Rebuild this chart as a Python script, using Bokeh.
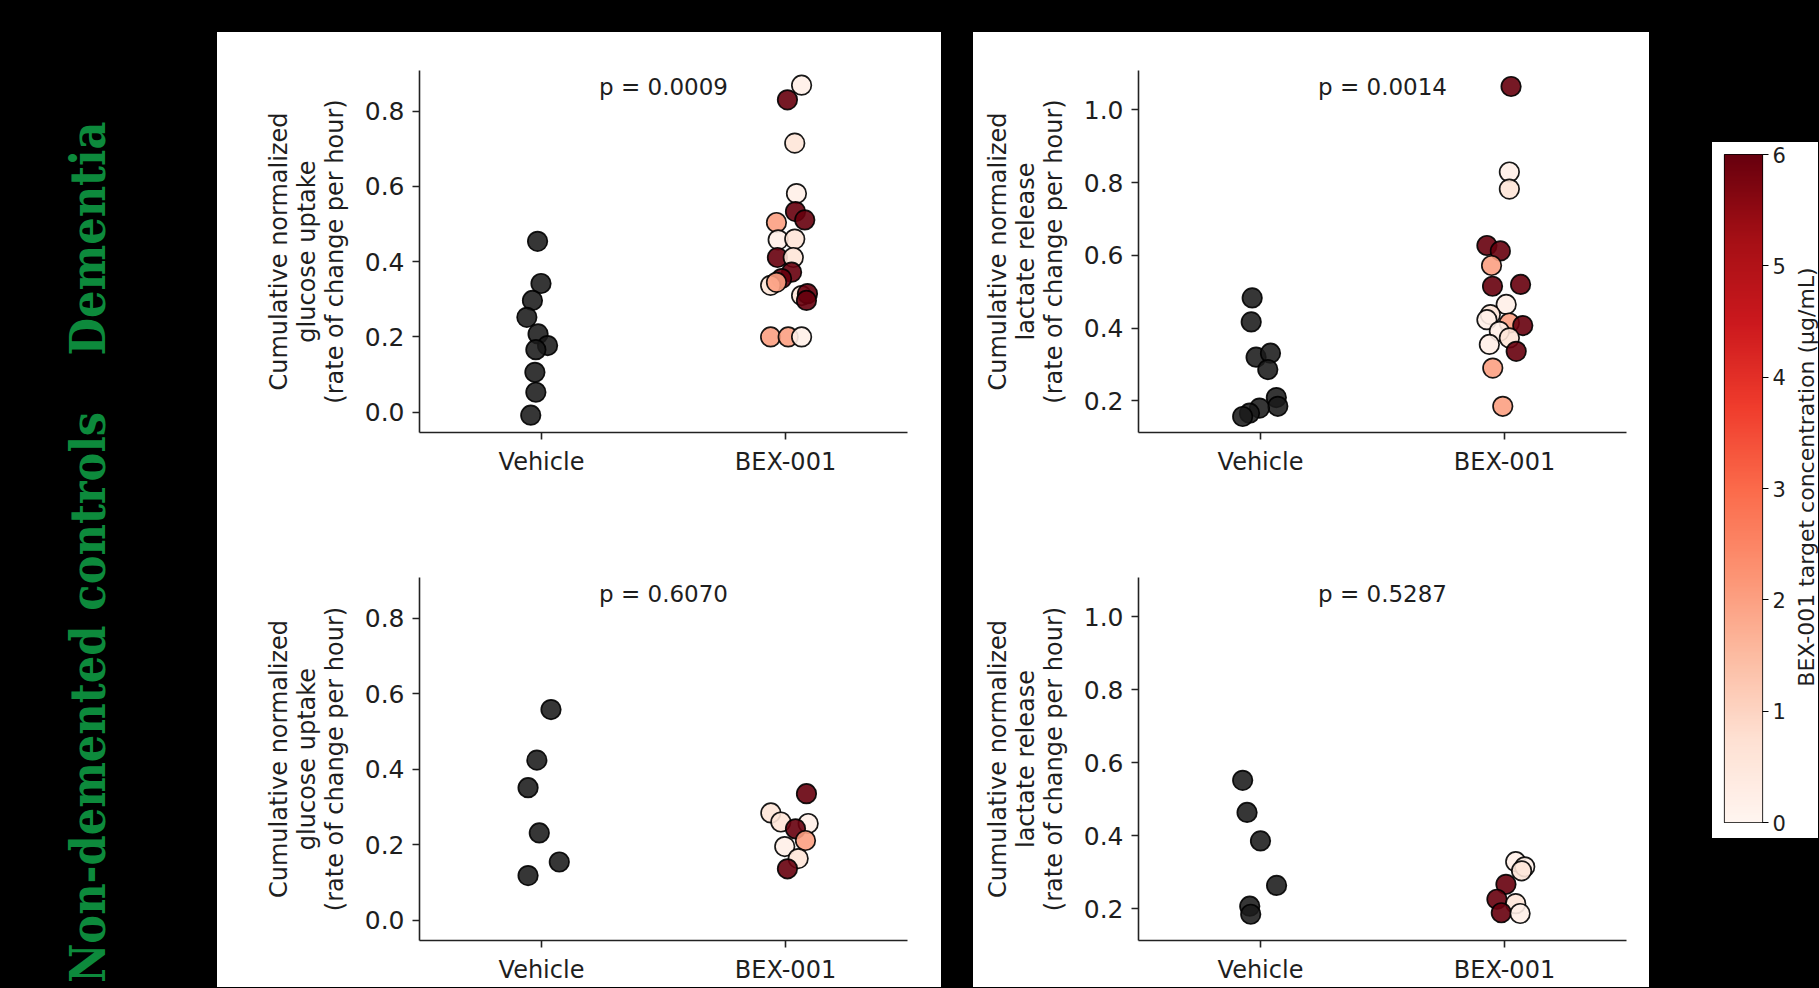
import numpy as np
from bokeh.plotting import figure
from bokeh.models import (ColumnDataSource, Range1d, FixedTicker, PrintfTickFormatter,
                          LinearColorMapper, Label, Spacer)
from bokeh.layouts import row, column
from bokeh.palettes import Reds256
from bokeh.embed import file_html
from bokeh.resources import INLINE

# ---------------- data ----------------
categories = ["Vehicle", "BEX-001"]
row_labels = ["Dementia", "Non-demented controls"]
p_values = ["p = 0.0009", "p = 0.0014", "p = 0.6070", "p = 0.5287"]
glucose_ticks = [0.0, 0.2, 0.4, 0.6, 0.8]
lactate_ticks = [0.2, 0.4, 0.6, 0.8, 1.0]
cbar_ticks = [0, 1, 2, 3, 4, 5, 6]
ylabel_glucose = "Cumulative normalized\nglucose uptake\n(rate of change per hour)"
ylabel_lactate = "Cumulative normalized\nlactate release\n(rate of change per hour)"
cbar_label = "BEX-001 target concentration (µg/mL)"

# Dementia - glucose uptake
glu_dem_veh = [0.454, 0.342, 0.297, 0.252, 0.208, 0.177, 0.166, 0.106, 0.053, -0.008]
glu_dem_veh_jit = [-0.016, -0.002, -0.037, -0.060, -0.014, 0.025, -0.023, -0.027, -0.023, -0.044]
glu_dem_bex = [0.869, 0.830, 0.715, 0.581, 0.533, 0.511, 0.504, 0.458, 0.460, 0.411, 0.411,
               0.372, 0.355, 0.337, 0.345, 0.310, 0.315, 0.297, 0.200, 0.200, 0.200]
glu_dem_bex_jit = [0.066, 0.008, 0.038, 0.045, 0.041, 0.079, -0.037, -0.030, 0.038, -0.033, 0.032,
                   0.025, -0.016, -0.061, -0.037, 0.066, 0.090, 0.086, -0.061, 0.011, 0.066]
glu_dem_bex_conc = [0.2, 6, 0.6, 0.2, 6, 6, 2, 0.2, 0.6, 6, 0.6,
                    6, 6, 0.6, 2, 0.6, 6, 6, 2, 2, 0.2]

# Dementia - lactate release
lac_dem_veh = [0.483, 0.417, 0.320, 0.331, 0.286, 0.209, 0.185, 0.180, 0.166, 0.157]
lac_dem_veh_jit = [-0.034, -0.038, -0.018, 0.041, 0.030, 0.065, 0.071, -0.004, -0.045, -0.073]
lac_dem_bex = [1.064, 0.829, 0.782, 0.627, 0.612, 0.572, 0.515, 0.520, 0.465, 0.437,
               0.423, 0.414, 0.407, 0.391, 0.373, 0.355, 0.336, 0.290, 0.185]
lac_dem_bex_jit = [0.027, 0.020, 0.020, -0.072, -0.017, -0.053, -0.049, 0.066, 0.007, -0.058,
                   -0.072, 0.020, 0.075, -0.021, 0.020, -0.062, 0.048, -0.048, -0.007]
lac_dem_bex_conc = [6, 0.2, 0.6, 6, 6, 2, 6, 6, 0.2, 0.6,
                    0.2, 2, 6, 0.2, 0.6, 0.2, 6, 2, 2]

# Non-demented controls - glucose uptake
glu_ctl_veh = [0.558, 0.424, 0.351, 0.231, 0.154, 0.118]
glu_ctl_veh_jit = [0.039, -0.019, -0.055, -0.009, 0.073, -0.055]
glu_ctl_bex = [0.335, 0.284, 0.260, 0.256, 0.242, 0.211, 0.195, 0.163, 0.136]
glu_ctl_bex_jit = [0.086, -0.060, -0.019, 0.093, 0.041, 0.082, -0.003, 0.052, 0.008]
glu_ctl_bex_conc = [6, 0.6, 0.6, 0.2, 6, 2, 0.2, 0.6, 6]

# Non-demented controls - lactate release
lac_ctl_veh = [0.552, 0.464, 0.386, 0.264, 0.207, 0.185]
lac_ctl_veh_jit = [-0.073, -0.055, 0.000, 0.066, -0.044, -0.040]
lac_ctl_bex = [0.329, 0.315, 0.304, 0.267, 0.226, 0.214, 0.189, 0.187]
lac_ctl_bex_jit = [0.046, 0.083, 0.070, 0.006, -0.031, 0.046, -0.013, 0.064]
lac_ctl_bex_conc = [0.2, 0.2, 0.6, 6, 6, 0.6, 6, 0.2]

conc_low, conc_high = 0, 6
glucose_range = (-0.054, 0.908)
lactate_range = (0.113, 1.108)

# ---------------- styling ----------------
FONT = "DejaVu Sans"
TXT = "#1e1e1e"
WHITE = {"background-color": "white"}
mapper = LinearColorMapper(palette=list(reversed(Reds256)), low=conc_low, high=conc_high)


def make_panel(veh, veh_jit, bex, bex_jit, bex_conc, ticks, yr, ylabel, ptext,
               width, height, bl, br, bt, bb):
    p = figure(width=width, height=height, x_range=Range1d(-0.5, 1.5), y_range=Range1d(*yr),
               output_backend="svg", toolbar_location=None,
               min_border_left=bl, min_border_right=br, min_border_top=bt, min_border_bottom=bb,
               background_fill_color="white", border_fill_color="white", outline_line_color=None,
               styles=WHITE)
    p.grid.visible = False

    src_v = ColumnDataSource(dict(x=[0 + j for j in veh_jit], y=veh))
    p.scatter("x", "y", source=src_v, size=19.5, fill_color="#1a1a1a", fill_alpha=0.88,
              line_color="black", line_alpha=0.9, line_width=1.7)
    src_b = ColumnDataSource(dict(x=[1 + j for j in bex_jit], y=bex, c=bex_conc))
    p.scatter("x", "y", source=src_b, size=19.5,
              fill_color={"field": "c", "transform": mapper}, fill_alpha=0.9,
              line_color="black", line_alpha=0.9, line_width=1.7)

    xa = p.xaxis[0]
    xa.ticker = FixedTicker(ticks=[0, 1])
    xa.major_label_overrides = {0: categories[0], 1: categories[1]}
    ya = p.yaxis[0]
    ya.ticker = FixedTicker(ticks=ticks)
    ya.formatter = PrintfTickFormatter(format="%.1f")
    ya.axis_label = ylabel
    ya.axis_label_text_font = FONT
    ya.axis_label_text_font_style = "normal"
    ya.axis_label_text_font_size = "24px"
    ya.axis_label_text_color = TXT
    ya.axis_label_text_line_height = 1.0
    ya.axis_label_standoff = 13
    for ax in (xa, ya):
        ax.axis_line_color = "#222222"
        ax.axis_line_width = 1.6
        ax.major_tick_line_color = "#222222"
        ax.major_tick_line_width = 1.6
        ax.major_tick_out = 7
        ax.major_tick_in = 0
        ax.minor_tick_line_color = None
        ax.major_label_text_font = FONT
        ax.major_label_text_font_size = "25px"
        ax.major_label_text_color = TXT
        ax.major_label_standoff = 8
    xa.major_label_text_font_size = "24px"

    py = yr[0] + 0.955 * (yr[1] - yr[0])
    p.add_layout(Label(x=0.5, y=py, text=ptext, text_align="center", text_baseline="middle",
                       text_font=FONT, text_font_size="23px", text_color=TXT))
    return p


tl = make_panel(glu_dem_veh, glu_dem_veh_jit, glu_dem_bex, glu_dem_bex_jit, glu_dem_bex_conc,
                glucose_ticks, glucose_range, ylabel_glucose, p_values[0], 724, 488, 202, 34, 38, 88)
bl_ = make_panel(glu_ctl_veh, glu_ctl_veh_jit, glu_ctl_bex, glu_ctl_bex_jit, glu_ctl_bex_conc,
                 glucose_ticks, glucose_range, ylabel_glucose, p_values[2], 724, 467, 202, 34, 57, 47)
tr = make_panel(lac_dem_veh, lac_dem_veh_jit, lac_dem_bex, lac_dem_bex_jit, lac_dem_bex_conc,
                lactate_ticks, lactate_range, ylabel_lactate, p_values[1], 676, 488, 165, 23, 38, 88)
br_ = make_panel(lac_ctl_veh, lac_ctl_veh_jit, lac_ctl_bex, lac_ctl_bex_jit, lac_ctl_bex_conc,
                 lactate_ticks, lactate_range, ylabel_lactate, p_values[3], 676, 467, 165, 23, 57, 47)

# ---------------- row labels (left) ----------------
LW, LH = 217, 987
lf = figure(width=LW, height=LH, x_range=Range1d(0, LW), y_range=Range1d(0, LH),
            output_backend="svg", toolbar_location=None, min_border=0,
            x_axis_location=None, y_axis_location=None,
            background_fill_color="black", border_fill_color="black", outline_line_color=None,
            styles={"background-color": "black"})
lf.grid.visible = False
for txt, yc in zip(row_labels, [LH - 238, LH - 697]):
    lf.add_layout(Label(x=87, y=yc, text=txt, angle=90, angle_units="deg",
                        text_align="center", text_baseline="alphabetic",
                        text_font="DejaVu Serif Condensed", text_font_style="bold",
                        text_font_size="48px", text_color="#0d8a3c"))

# ---------------- colorbar ----------------
cb = figure(width=76, height=696, x_range=Range1d(0, 1), y_range=Range1d(conc_low, conc_high),
            output_backend="svg", toolbar_location=None,
            min_border_left=12, min_border_right=26, min_border_top=12, min_border_bottom=16,
            x_axis_location=None, y_axis_location="right",
            background_fill_color="white", border_fill_color="white",
            outline_line_color="black", outline_line_width=1.2, styles=WHITE)
cb.grid.visible = False
grad = np.linspace(conc_low, conc_high, 256).reshape(-1, 1)
cb.image(image=[grad], x=0, y=conc_low, dw=1, dh=conc_high - conc_low, color_mapper=mapper)
cya = cb.yaxis[0]
cya.ticker = FixedTicker(ticks=cbar_ticks)
cya.axis_line_color = None
cya.major_tick_out = 6
cya.major_tick_in = 0
cya.major_tick_line_color = "black"
cya.major_tick_line_width = 1.2
cya.minor_tick_line_color = None
cya.major_label_text_font = FONT
cya.major_label_text_font_size = "21px"
cya.major_label_text_color = TXT
cya.major_label_standoff = 4

CLW, CLH = 30, 696
cbl = figure(width=CLW, height=CLH, x_range=Range1d(0, CLW), y_range=Range1d(0, CLH),
             output_backend="svg", toolbar_location=None, min_border=0,
             x_axis_location=None, y_axis_location=None,
             background_fill_color="white", border_fill_color="white", outline_line_color=None,
             styles=WHITE)
cbl.grid.visible = False
cbl.add_layout(Label(x=18, y=CLH - 336, text=cbar_label, angle=90, angle_units="deg",
                     text_align="center", text_baseline="middle",
                     text_font=FONT, text_font_size="22px", text_color=TXT))

# ---------------- layout ----------------
left_col = column(Spacer(width=724, height=32), tl, bl_)
right_col = column(Spacer(width=676, height=32), tr, br_)
cb_col = column(Spacer(width=106, height=142), row(cb, cbl))
root = row(lf, left_col, Spacer(width=32, height=987), right_col, Spacer(width=63, height=987), cb_col,
           styles={"background-color": "black"})

html = file_html(root, INLINE)
html = html.replace("</head>", "<style>html, body { background-color: #000000; }</style></head>", 1)
open("out.html", "w").write(html)
